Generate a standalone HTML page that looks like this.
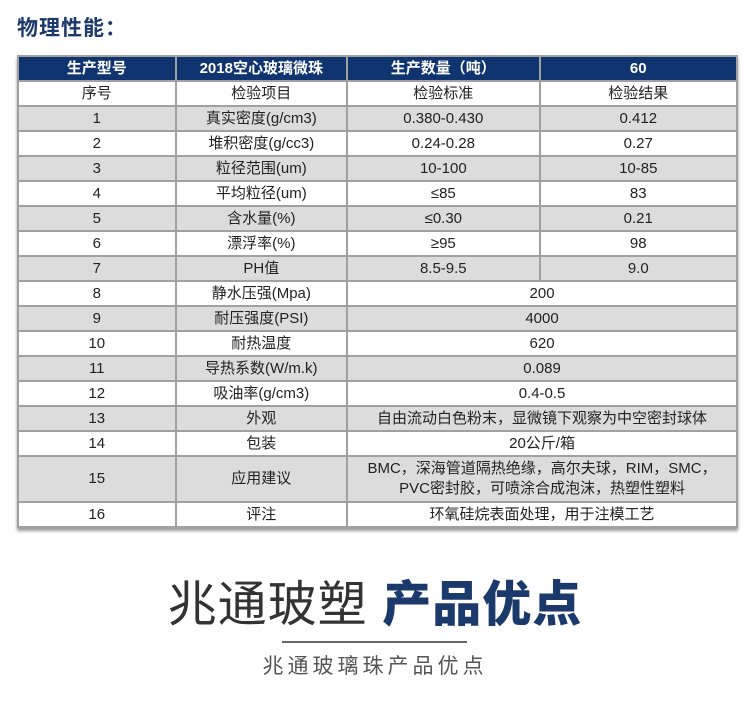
<!DOCTYPE html>
<html><head><meta charset="utf-8"><style>
body{margin:0;width:750px;height:701px;background:#fff;position:relative;font-family:"Liberation Sans","Noto Sans CJK SC",sans-serif;overflow:hidden}
.t{position:absolute;left:17px;top:12px;font-size:21px;font-weight:bold;color:#1b3a6b;letter-spacing:1px}
table{position:absolute;left:17px;top:55px;width:721px;border-collapse:collapse;box-shadow:0 3px 3px #999;font-size:15px;color:#222}
td{border:2px solid #a0a0a0;text-align:center;height:23px;padding:0;line-height:20px}
tr.h td{background:#0f3470;color:#fff;font-weight:bold;font-size:15px}
tr.g td{background:#dcdcdc}
.big{position:absolute;left:0;width:750px;top:576px;text-align:center;font-size:49px;line-height:58px;color:#333;letter-spacing:1px}
.big b{color:#1b3a6b;font-weight:900}
.ln{position:absolute;left:282px;width:185px;top:641px;height:2px;background:#666}
.sub{position:absolute;left:0;width:750px;top:650px;text-align:center;font-size:21px;color:#555;letter-spacing:4px}
</style></head><body>
<div class="t">物理性能：</div>
<table>
<colgroup><col style="width:158px"><col style="width:172px"><col style="width:193px"><col style="width:198px"></colgroup>
<tr class="h"><td>生产型号</td><td>2018空心玻璃微珠</td><td>生产数量（吨）</td><td>60</td></tr>
<tr><td>序号</td><td>检验项目</td><td>检验标准</td><td>检验结果</td></tr>
<tr class="g"><td>1</td><td>真实密度(g/cm3)</td><td>0.380-0.430</td><td>0.412</td></tr>
<tr><td>2</td><td>堆积密度(g/cc3)</td><td>0.24-0.28</td><td>0.27</td></tr>
<tr class="g"><td>3</td><td>粒径范围(um)</td><td>10-100</td><td>10-85</td></tr>
<tr><td>4</td><td>平均粒径(um)</td><td>≤85</td><td>83</td></tr>
<tr class="g"><td>5</td><td>含水量(%)</td><td>≤0.30</td><td>0.21</td></tr>
<tr><td>6</td><td>漂浮率(%)</td><td>≥95</td><td>98</td></tr>
<tr class="g"><td>7</td><td>PH值</td><td>8.5-9.5</td><td>9.0</td></tr>
<tr><td>8</td><td>静水压强(Mpa)</td><td colspan="2">200</td></tr>
<tr class="g"><td>9</td><td>耐压强度(PSI)</td><td colspan="2">4000</td></tr>
<tr><td>10</td><td>耐热温度</td><td colspan="2">620</td></tr>
<tr class="g"><td>11</td><td>导热系数(W/m.k)</td><td colspan="2">0.089</td></tr>
<tr><td>12</td><td>吸油率(g/cm3)</td><td colspan="2">0.4-0.5</td></tr>
<tr class="g"><td>13</td><td>外观</td><td colspan="2">自由流动白色粉末，显微镜下观察为中空密封球体</td></tr>
<tr><td>14</td><td>包装</td><td colspan="2">20公斤/箱</td></tr>
<tr class="g"><td style="height:44px">15</td><td>应用建议</td><td colspan="2">BMC，深海管道隔热绝缘，高尔夫球，RIM，SMC，<br>PVC密封胶，可喷涂合成泡沫，热塑性塑料</td></tr>
<tr><td>16</td><td>评注</td><td colspan="2">环氧硅烷表面处理，用于注模工艺</td></tr>
</table>
<div class="big">兆通玻塑 <b>产品优点</b></div>
<div class="ln"></div>
<div class="sub">兆通玻璃珠产品优点</div>
</body></html>
